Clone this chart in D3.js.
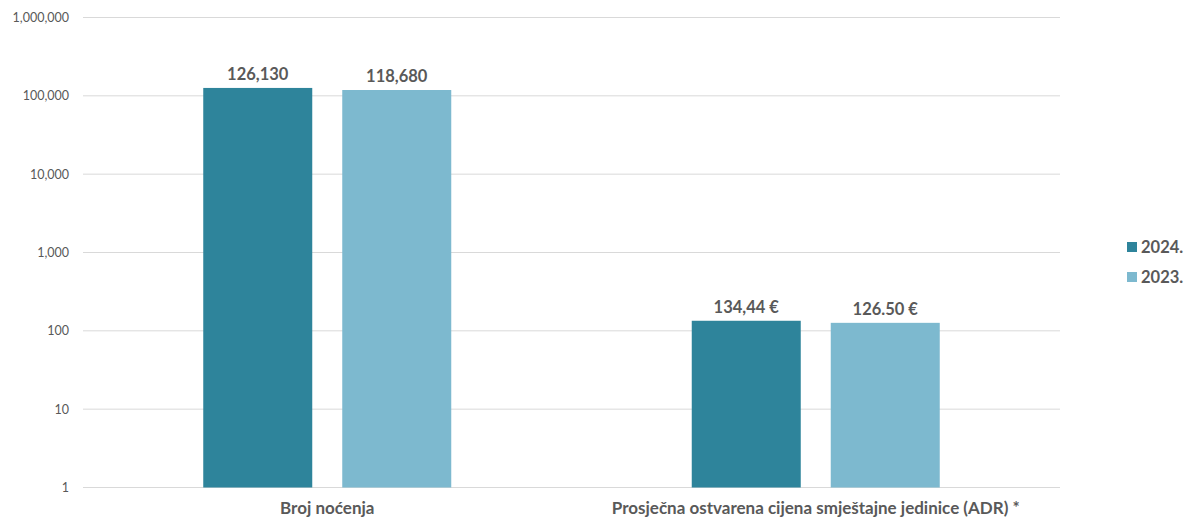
<!DOCTYPE html>
<html>
<head>
<meta charset="utf-8">
<script src="https://cdn.jsdelivr.net/npm/d3@7"></script>
<style>
  body { margin: 0; background: #fff; }
  text { font-family: Lato, "Open Sans", sans-serif; fill: #595959; }
  .tick text { font-size: 12.5px; }
  .val { font-size: 16.5px; font-weight: bold; }
  .cat { font-size: 17px; font-weight: bold; }
  .leg { font-size: 16.5px; font-weight: bold; }
</style>
</head>
<body>
<svg width="1184" height="520"></svg>
<script>
// chart data
const categories = ["Broj noćenja", "Prosječna ostvarena cijena smještajne jedinice (ADR) *"];
const seriesNames = ["2024.", "2023."];
const values2024 = [126130, 134.44];
const values2023 = [118680, 126.50];
const labels2024 = ["126,130", "134,44 €"];
const labels2023 = ["118,680", "126.50 €"];
const tickValues = [1, 10, 100, 1000, 10000, 100000, 1000000];
const colors = ["#2E849B", "#7DB9CF"];

const svg = d3.select("svg");
const plotLeft = 83, plotRight = 1060, plotTop = 17.5, plotBottom = 487.5;

const x = d3.scaleBand().domain(categories).range([plotLeft, plotRight]);
const y = d3.scaleLog().domain([1, 1000000]).range([plotBottom, plotTop]);

const barW = 109, gap = 30;
const sub = d3.scaleOrdinal().domain(seriesNames)
  .range([-(barW + gap / 2), gap / 2]);

// grid
svg.append("g")
  .selectAll("line")
  .data(tickValues)
  .join("line")
  .attr("x1", plotLeft).attr("x2", plotRight)
  .attr("y1", d => y(d)).attr("y2", d => y(d))
  .attr("stroke", "#d9d9d9").attr("stroke-width", 1);

// y axis
const yAxis = svg.append("g")
  .attr("transform", `translate(${plotLeft - 14},0)`)
  .call(d3.axisLeft(y).tickValues(tickValues).tickFormat(d3.format(",")).tickSize(0).tickPadding(0));
yAxis.select(".domain").remove();
yAxis.selectAll("text").style("fill", "#595959");

// bars
const series = [
  { name: seriesNames[0], vals: values2024, labels: labels2024, color: colors[0] },
  { name: seriesNames[1], vals: values2023, labels: labels2023, color: colors[1] }
];

series.forEach(s => {
  const rows = categories.map((c, i) => ({ c, v: s.vals[i], l: s.labels[i] }));
  svg.append("g").selectAll("rect")
    .data(rows)
    .join("rect")
    .attr("x", d => x(d.c) + x.bandwidth() / 2 + sub(s.name))
    .attr("y", d => y(d.v))
    .attr("width", barW)
    .attr("height", d => plotBottom - y(d.v))
    .attr("fill", s.color);

  svg.append("g").selectAll("text")
    .data(rows)
    .join("text")
    .attr("class", "val")
    .attr("text-anchor", "middle")
    .attr("x", d => x(d.c) + x.bandwidth() / 2 + sub(s.name) + barW / 2)
    .attr("y", d => y(d.v) - 8)
    .text(d => d.l);
});

// category labels
svg.append("g").selectAll("text")
  .data(categories)
  .join("text")
  .attr("class", "cat")
  .attr("text-anchor", "middle")
  .attr("x", d => x(d) + x.bandwidth() / 2)
  .attr("y", 514)
  .text(d => d);

// legend
const leg = svg.append("g").attr("transform", "translate(1127,242)");
seriesNames.forEach((n, i) => {
  leg.append("rect").attr("x", 0).attr("y", i * 30).attr("width", 10).attr("height", 10).attr("fill", colors[i]);
  leg.append("text").attr("class", "leg").attr("x", 14).attr("y", i * 30 + 11).text(n);
});
</script>
</body>
</html>
